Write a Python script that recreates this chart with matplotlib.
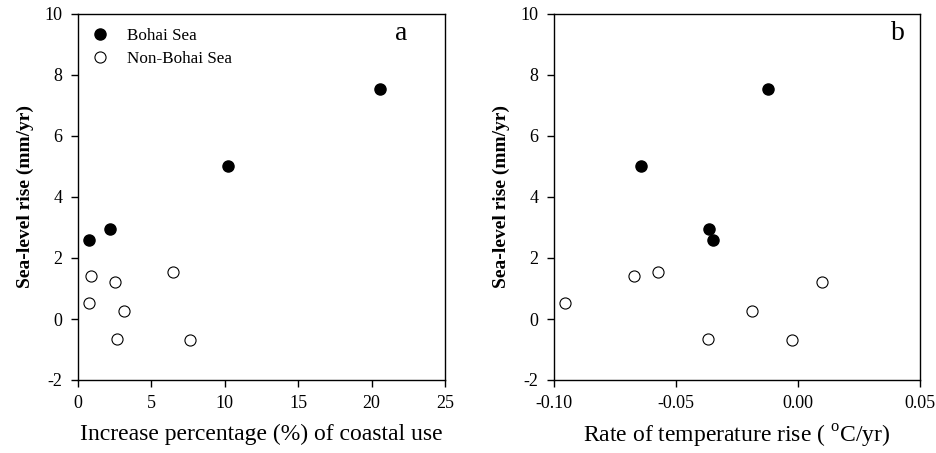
import matplotlib
matplotlib.use("Agg")
import matplotlib.pyplot as plt

plt.rcParams['font.family'] = ['Liberation Serif', 'DejaVu Serif']
plt.rcParams['axes.unicode_minus'] = False
plt.rcParams['mathtext.fontset'] = 'custom'
plt.rcParams['mathtext.rm'] = 'Liberation Serif'

# sea-level rise (mm/yr)
bohai_slr = [2.60, 2.95, 5.00, 7.55]
non_bohai_slr = [1.40, 0.52, 1.20, 0.25, -0.64, 1.53, -0.68]

# increase percentage (%) of coastal use
bohai_use = [0.77, 2.18, 10.24, 20.57]
non_bohai_use = [0.89, 0.77, 2.52, 3.16, 2.68, 6.45, 7.63]

# rate of temperature rise (degC/yr)
bohai_temp = [-0.035, -0.0365, -0.0642, -0.0122]
non_bohai_temp = [-0.0671, -0.0955, 0.0098, -0.019, -0.0367, -0.0572, -0.0023]

fig = plt.figure(figsize=(9.36, 4.53), dpi=100)
ax_a = fig.add_axes([78 / 936, 1 - 380 / 453, 367 / 936, 366 / 453])
ax_b = fig.add_axes([554 / 936, 1 - 380 / 453, 366 / 936, 366 / 453])


def style_axes(ax):
    ax.set_ylim(-2, 10)
    ax.set_yticks([-2, 0, 2, 4, 6, 8, 10])
    ax.tick_params(direction='out', length=5, width=1, labelsize=13,
                   top=False, right=False)
    ax.tick_params(axis='x', pad=6)
    ax.tick_params(axis='y', pad=6)
    for s in ax.spines.values():
        s.set_linewidth(1)
    ax.set_ylabel("Sea-level rise (mm/yr)", fontsize=14, fontweight='bold', labelpad=8)


ms = 8
ax_a.plot(bohai_use, bohai_slr, 'o', color='black', ms=ms, label='Bohai Sea', clip_on=False)
ax_a.plot(non_bohai_use, non_bohai_slr, 'o', mfc='white', mec='black', mew=0.8, ms=ms,
          label='Non-Bohai Sea', clip_on=False)
ax_a.set_xlim(0, 25)
ax_a.set_xticks([0, 5, 10, 15, 20, 25])
style_axes(ax_a)
ax_a.set_xlabel("Increase percentage (%) of coastal use", fontsize=17, labelpad=8)
ax_a.text(0.88, 0.947, "a", transform=ax_a.transAxes, fontsize=20, ha='center', va='center')
ax_a.legend(loc='upper left', bbox_to_anchor=(0.0, 0.992), frameon=False, fontsize=12.3,
            handletextpad=0.9, borderaxespad=0.25, labelspacing=0.4, handlelength=1.3)

ax_b.plot(bohai_temp, bohai_slr, 'o', color='black', ms=ms, clip_on=False)
ax_b.plot(non_bohai_temp, non_bohai_slr, 'o', mfc='white', mec='black', mew=0.8, ms=ms,
          clip_on=False)
ax_b.set_xlim(-0.10, 0.05)
ax_b.set_xticks([-0.10, -0.05, 0.00, 0.05])
ax_b.set_xticklabels(["-0.10", "-0.05", "0.00", "0.05"])
style_axes(ax_b)
ax_b.set_xlabel("Rate of temperature rise ( $^{\\mathrm{o}}$C/yr)", fontsize=17, labelpad=8)
ax_b.text(0.94, 0.947, "b", transform=ax_b.transAxes, fontsize=20, ha='center', va='center')

fig.savefig("out.png", dpi=100)
